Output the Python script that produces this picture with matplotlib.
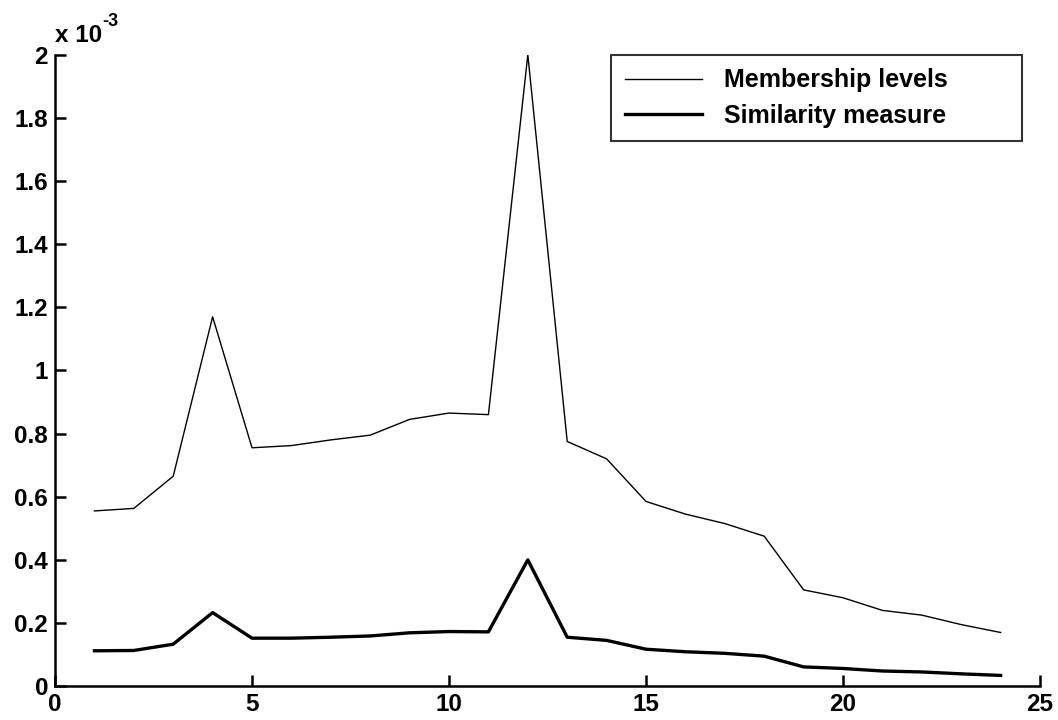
import matplotlib.pyplot as plt
from matplotlib.ticker import FuncFormatter, MultipleLocator
import numpy as np

plt.rcParams['font.family'] = ['Liberation Sans', 'DejaVu Sans']
plt.rcParams['font.weight'] = 'bold'

# sample index
n = np.arange(1, 25)

# values in units of 1e-3
membership = np.array([0.555, 0.563, 0.665, 1.17, 0.755, 0.762, 0.78, 0.795,
                       0.845, 0.865, 0.86, 2.0, 0.775, 0.72, 0.585, 0.545,
                       0.515, 0.475, 0.305, 0.28, 0.24, 0.225, 0.195, 0.17]) * 1e-3
similarity = np.array([0.112, 0.113, 0.133, 0.233, 0.152, 0.152, 0.155, 0.159,
                       0.169, 0.173, 0.172, 0.40, 0.155, 0.145, 0.117, 0.109,
                       0.104, 0.095, 0.061, 0.056, 0.048, 0.045, 0.039, 0.034]) * 1e-3

fig = plt.figure(figsize=(10.58, 7.2), dpi=100)
ax = fig.add_axes([0.052, 0.047, 0.931, 0.877])

ax.plot(n, membership, color='black', linewidth=1.0, label='Membership levels')
ax.plot(n, similarity, color='black', linewidth=2.4, label='Similarity measure')

ax.set_xlim(0, 25)
ax.set_ylim(0, 2e-3)
ax.xaxis.set_major_locator(MultipleLocator(5))
ax.yaxis.set_major_locator(MultipleLocator(0.2e-3))
ax.yaxis.set_major_formatter(FuncFormatter(lambda v, pos: f'{round(v * 1e3, 1):g}'))

for side in ['top', 'right']:
    ax.spines[side].set_visible(False)
for side in ['left', 'bottom']:
    ax.spines[side].set_linewidth(1.8)

ax.tick_params(direction='in', length=8, width=1.8, labelsize=17.5, pad=5)
for lab in ax.get_xticklabels() + ax.get_yticklabels():
    lab.set_fontweight('bold')

# exponent label drawn by hand so the minus stays a plain hyphen
base = ax.text(0.0, 1.012, 'x 10', transform=ax.transAxes, fontsize=17.5,
               fontweight='bold', ha='left', va='bottom')
ax.annotate('-3', xy=(1.0, 0.75), xycoords=base, fontsize=13,
            fontweight='bold', ha='left', va='bottom')

leg = ax.legend(loc='upper left', bbox_to_anchor=(0.5645, 1.0, 0.417, 0.0),
                mode='expand', borderaxespad=0.0, frameon=True, fancybox=False,
                edgecolor='black', handlelength=3.1, handletextpad=0.85,
                borderpad=0.55, labelspacing=0.45,
                prop={'weight': 'bold', 'size': 18})
leg.get_frame().set_linewidth(1.5)

fig.savefig('out.png', dpi=100)
